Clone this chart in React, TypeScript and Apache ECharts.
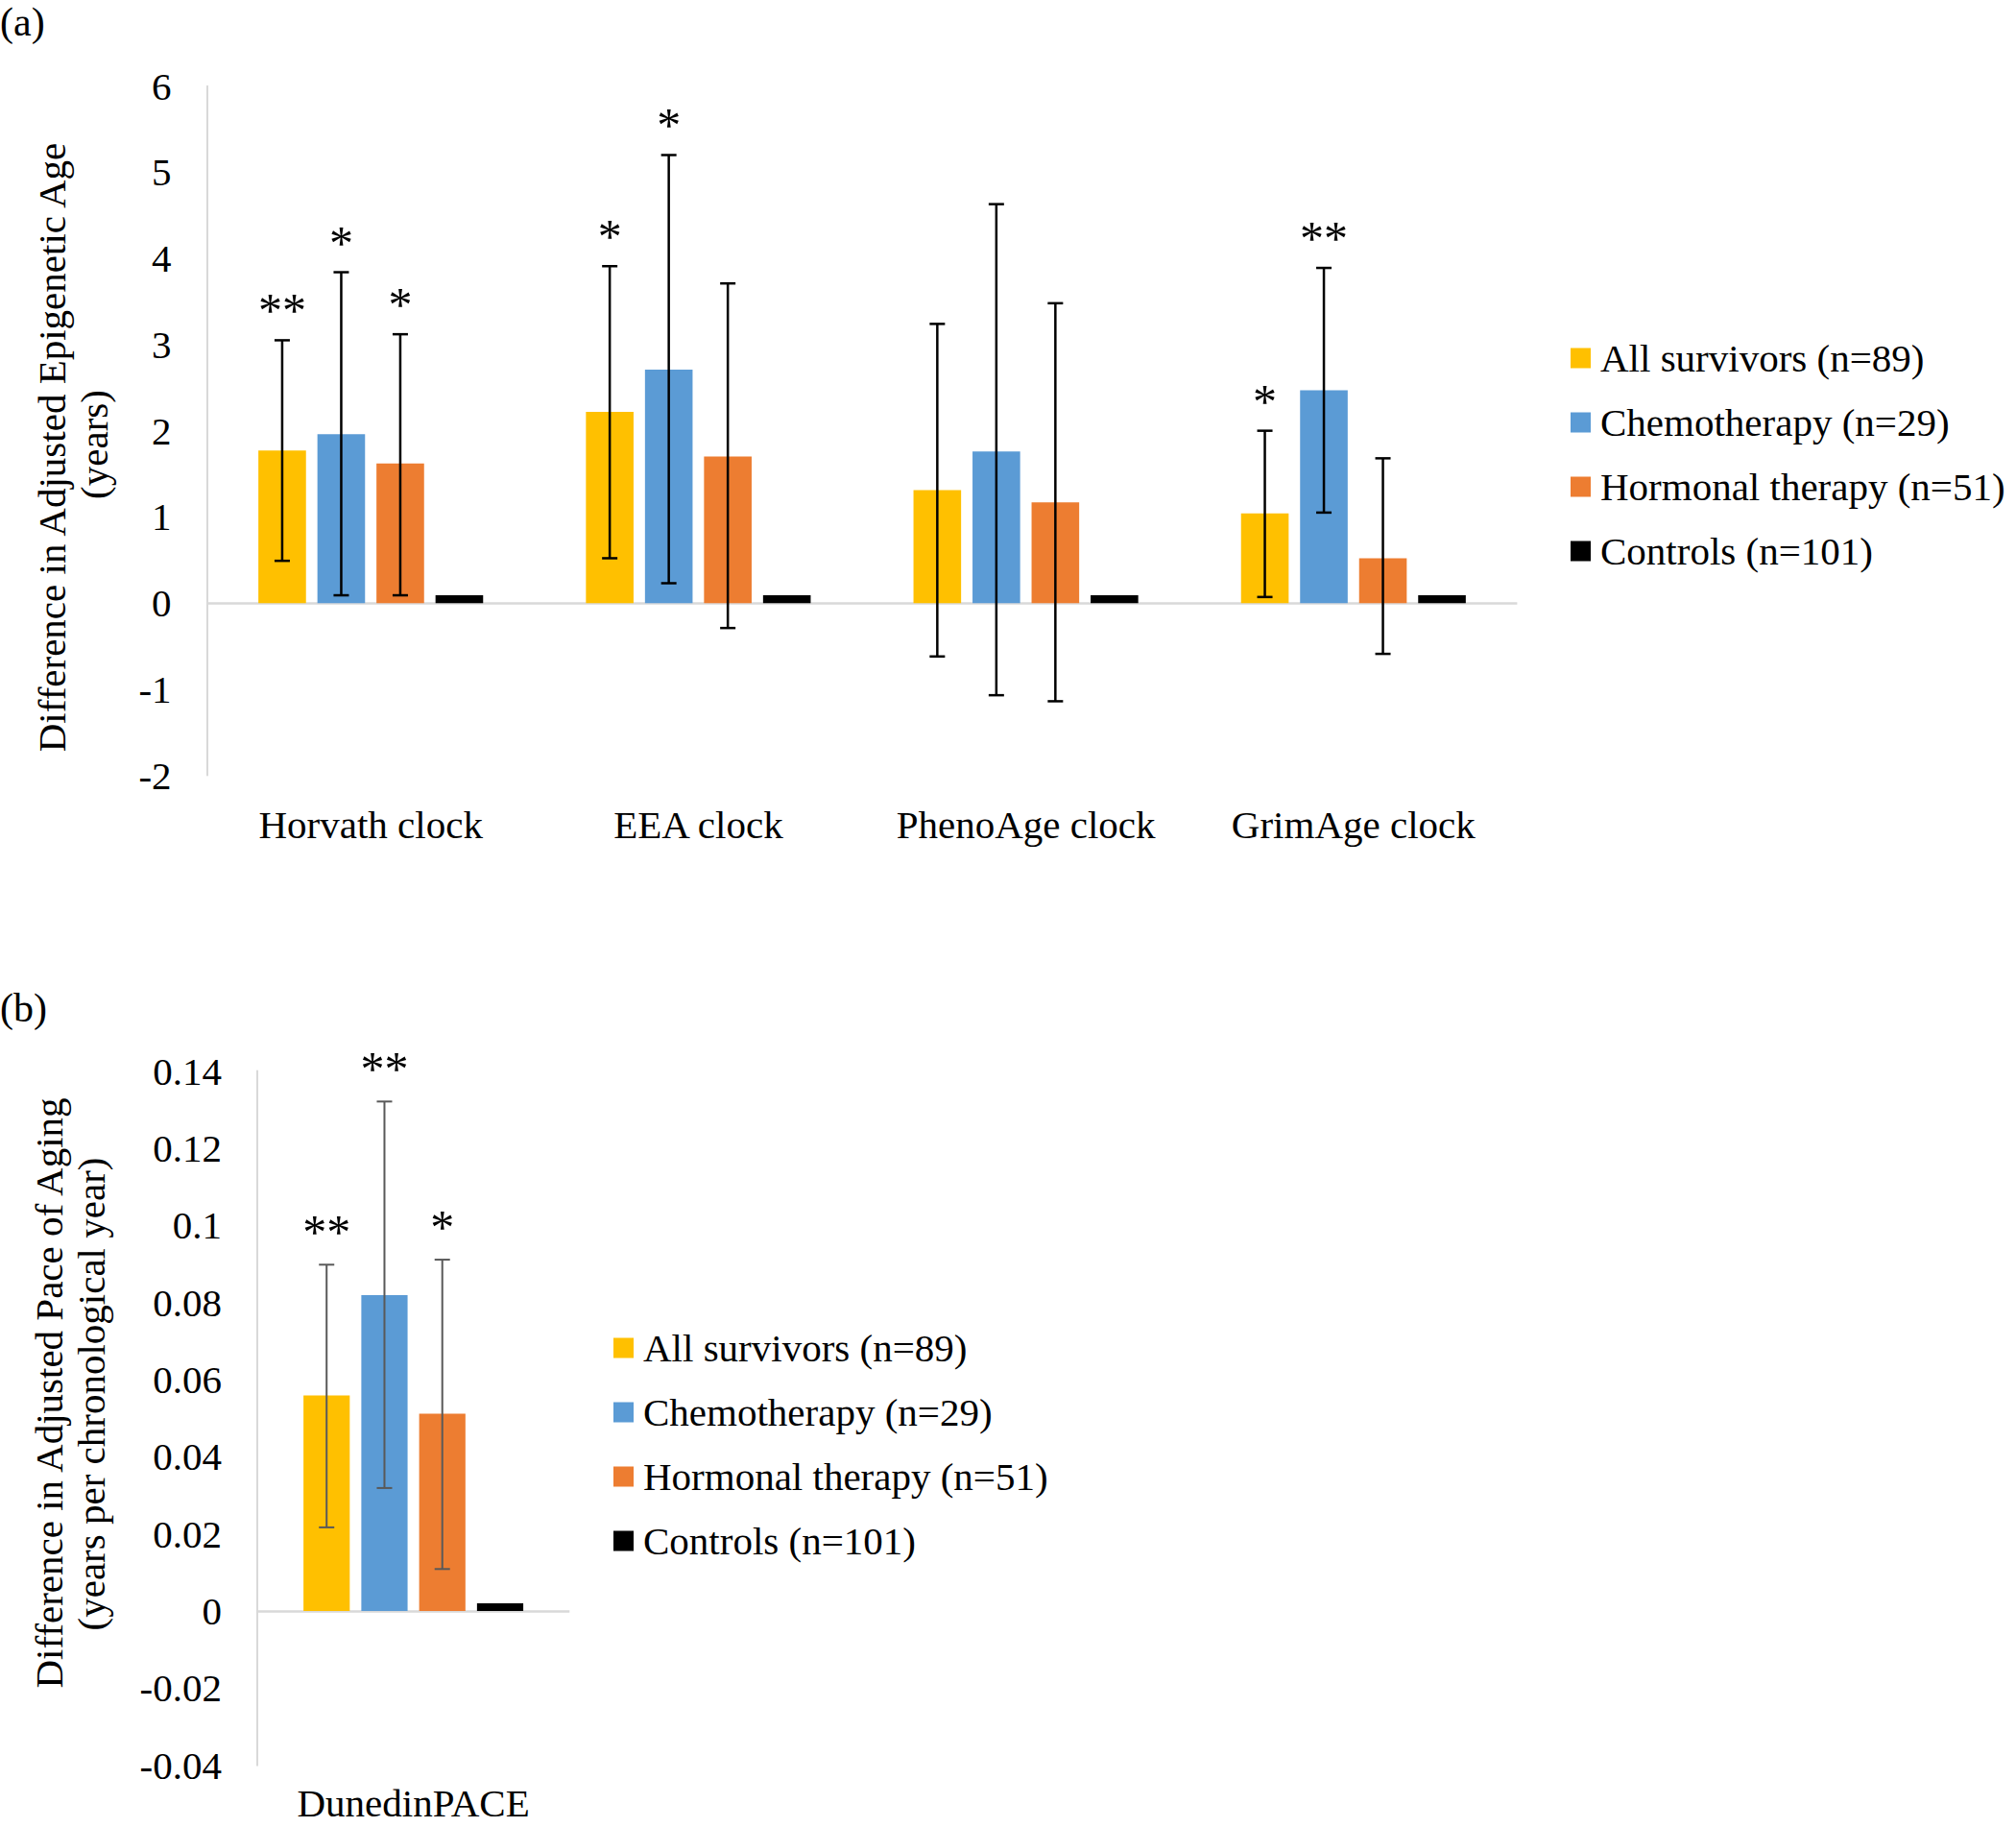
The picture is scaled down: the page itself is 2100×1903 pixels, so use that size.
import React, { useEffect, useRef } from 'react';
import * as echarts from 'echarts';

const FONT = "'Liberation Serif', 'Times New Roman', serif";

const seriesNames = ['All survivors (n=89)', 'Chemotherapy (n=29)', 'Hormonal therapy (n=51)', 'Controls (n=101)'];
const seriesColors = ['#FFC000', '#5B9BD5', '#ED7D31', '#000000'];

// Panel (a)
const clockCategories = ['Horvath clock', 'EEA clock', 'PhenoAge clock', 'GrimAge clock'];
const clockAllSurvivors = [1.77, 2.22, 1.31, 1.04];
const clockChemo = [1.96, 2.71, 1.76, 2.47];
const clockHormonal = [1.62, 1.70, 1.17, 0.52];
const clockControls = [0.09, 0.09, 0.09, 0.09];
const clockAllLow = [0.49, 0.52, -0.62, 0.07];
const clockAllHigh = [3.05, 3.91, 3.24, 2.0];
const clockChemoLow = [0.09, 0.23, -1.07, 1.05];
const clockChemoHigh = [3.84, 5.2, 4.63, 3.89];
const clockHormLow = [0.09, -0.29, -1.14, -0.59];
const clockHormHigh = [3.12, 3.71, 3.48, 1.68];
const clockAllStars = ['**', '*', '', '*'];
const clockChemoStars = ['*', '*', '', '**'];
const clockHormStars = ['*', '', '', ''];

// Panel (b)
const paceCategories = ['DunedinPACE'];
const paceAllSurvivors = [0.0559];
const paceChemo = [0.0819];
const paceHormonal = [0.0512];
const paceControls = [0.002];
const paceAllLow = [0.0217];
const paceAllHigh = [0.0898];
const paceChemoLow = [0.0319];
const paceChemoHigh = [0.1321];
const paceHormLow = [0.0109];
const paceHormHigh = [0.0911];
const paceAllStars = ['**'];
const paceChemoStars = ['**'];
const paceHormStars = ['*'];

function buildErr(lows: number[][], highs: number[][], stars: string[][]) {
  const data: number[][] = [];
  const labels: string[] = [];
  for (let g = 0; g < lows.length; g++) {
    for (let c = 0; c < lows[g].length; c++) {
      data.push([c, g, lows[g][c], highs[g][c]]);
      labels.push(stars[g][c]);
    }
  }
  return { data, labels };
}

export default function App() {
  const ref = useRef<HTMLDivElement>(null);
  useEffect(() => {
    if (!ref.current) return;
    const chart = echarts.init(ref.current, null, { renderer: 'svg' });

    const barWA = 49.6;
    const gapA = 0.24;
    const barWB = 48.2;
    const gapB = 0.25;

    const errA = buildErr(
      [clockAllLow, clockChemoLow, clockHormLow],
      [clockAllHigh, clockChemoHigh, clockHormHigh],
      [clockAllStars, clockChemoStars, clockHormStars]
    );
    const errB = buildErr(
      [paceAllLow, paceChemoLow, paceHormLow],
      [paceAllHigh, paceChemoHigh, paceHormHigh],
      [paceAllStars, paceChemoStars, paceHormStars]
    );

    const makeRender = (pitch: number, labels: string[], color: string, lw: number, starGap: number) =>
      (params: any, api: any) => {
        const cat = api.value(0);
        const g = api.value(1);
        const lo = api.coord([cat, api.value(2)]);
        const hi = api.coord([cat, api.value(3)]);
        const x = lo[0] + (g - 1.5) * pitch;
        const cap = 8;
        const style = { stroke: color, lineWidth: lw };
        const children: any[] = [
          { type: 'line', shape: { x1: x, y1: lo[1], x2: x, y2: hi[1] }, style },
          { type: 'line', shape: { x1: x - cap, y1: lo[1], x2: x + cap, y2: lo[1] }, style },
          { type: 'line', shape: { x1: x - cap, y1: hi[1], x2: x + cap, y2: hi[1] }, style },
        ];
        const star = labels[params.dataIndex];
        if (star) {
          children.push({
            type: 'text',
            style: {
              text: star,
              x: x,
              y: hi[1] - starGap,
              align: 'center',
              verticalAlign: 'middle',
              fontSize: 50,
              fontFamily: FONT,
              fill: '#000',
            },
          });
        }
        return { type: 'group', children };
      };

    const axisLabelStyle = { fontSize: 41, fontFamily: FONT, color: '#000' };

    const barSeries = (gridIdx: number, values: number[][], bw: number, gap: number) =>
      values.map((vals, i) => ({
        type: 'bar',
        name: seriesNames[i],
        xAxisIndex: gridIdx,
        yAxisIndex: gridIdx,
        data: vals,
        barWidth: bw,
        barGap: `${Math.round(gap * 100)}%`,
        itemStyle: { color: seriesColors[i] },
        z: 2,
        ...(i === 0
          ? {
              markLine: {
                silent: true,
                symbol: 'none',
                label: { show: false },
                lineStyle: { color: '#D9D9D9', width: 2.5, type: 'solid' },
                data: [{ yAxis: 0 }],
                z: 1,
              },
            }
          : {}),
      }));

    const legendCommon = {
      orient: 'vertical',
      padding: 0,
      itemWidth: 21,
      itemHeight: 21,
      itemGap: 21,
      icon: 'rect',
      textStyle: { fontSize: 41, fontFamily: FONT, color: '#000', lineHeight: 46, padding: [0, 0, 0, 5] },
      data: seriesNames,
      selectedMode: false,
    };

    const option: any = {
      animation: false,
      backgroundColor: '#ffffff',
      textStyle: { fontFamily: FONT },
      grid: [
        { left: 215.6, top: 89.7, width: 1364.8, height: 717.9 },
        { left: 267.9, top: 1115.6, width: 325.4, height: 723.2 },
      ],
      legend: [
        { ...legendCommon, left: 1636, top: 350 },
        { ...legendCommon, left: 639, top: 1381 },
      ],
      xAxis: [
        {
          type: 'category',
          gridIndex: 0,
          data: clockCategories,
          axisLine: { show: false, onZero: false },
          axisTick: { show: false },
          axisLabel: { ...axisLabelStyle, margin: 31, interval: 0 },
        },
        {
          type: 'category',
          gridIndex: 1,
          data: paceCategories,
          axisLine: { show: false, onZero: false },
          axisTick: { show: false },
          axisLabel: { ...axisLabelStyle, margin: 19, interval: 0 },
        },
      ],
      yAxis: [
        {
          type: 'value',
          gridIndex: 0,
          min: -2,
          max: 6,
          interval: 1,
          axisLine: { show: true, lineStyle: { color: '#D9D9D9', width: 2 } },
          axisTick: { show: false },
          splitLine: { show: false },
          axisLabel: { ...axisLabelStyle, margin: 37 },
        },
        {
          type: 'value',
          gridIndex: 1,
          min: -0.04,
          max: 0.14,
          interval: 0.02,
          axisLine: { show: true, lineStyle: { color: '#D9D9D9', width: 2 } },
          axisTick: { show: false },
          splitLine: { show: false },
          axisLabel: { ...axisLabelStyle, margin: 37 },
        },
      ],
      series: [
        ...barSeries(0, [clockAllSurvivors, clockChemo, clockHormonal, clockControls], barWA, gapA),
        ...barSeries(1, [paceAllSurvivors, paceChemo, paceHormonal, paceControls], barWB, gapB),
        {
          type: 'custom',
          xAxisIndex: 0,
          yAxisIndex: 0,
          data: errA.data,
          encode: { x: 0, y: [2, 3] },
          renderItem: makeRender(barWA * (1 + gapA), errA.labels, '#000000', 2.5, 31),
          clip: false,
          z: 5,
          silent: true,
        },
        {
          type: 'custom',
          xAxisIndex: 1,
          yAxisIndex: 1,
          data: errB.data,
          encode: { x: 0, y: [2, 3] },
          renderItem: makeRender(barWB * (1 + gapB), errB.labels, '#595959', 2, 34),
          clip: false,
          z: 5,
          silent: true,
        },
      ],
      graphic: [
        { type: 'text', left: 0, top: 2, style: { text: '(a)', fontSize: 42, fontFamily: FONT, fill: '#000' } },
        { type: 'text', left: 0, top: 1029, style: { text: '(b)', fontSize: 42, fontFamily: FONT, fill: '#000' } },
        {
          type: 'text', x: 53.6, y: 466, rotation: Math.PI / 2,
          style: { text: 'Difference in Adjusted Epigenetic Age', fontSize: 41, fontFamily: FONT, fill: '#000', align: 'center', verticalAlign: 'middle' },
        },
        {
          type: 'text', x: 97.8, y: 463, rotation: Math.PI / 2,
          style: { text: '(years)', fontSize: 41, fontFamily: FONT, fill: '#000', align: 'center', verticalAlign: 'middle' },
        },
        {
          type: 'text', x: 51, y: 1451, rotation: Math.PI / 2,
          style: { text: 'Difference in Adjusted Pace of Aging', fontSize: 41, fontFamily: FONT, fill: '#000', align: 'center', verticalAlign: 'middle' },
        },
        {
          type: 'text', x: 95, y: 1452, rotation: Math.PI / 2,
          style: { text: '(years per chronological year)', fontSize: 41, fontFamily: FONT, fill: '#000', align: 'center', verticalAlign: 'middle' },
        },
      ],
    };

    chart.setOption(option);
    return () => chart.dispose();
  }, []);

  return (
    <div
      ref={ref}
      style={{ position: 'absolute', left: 0, top: 0, width: 2100, height: 1903, background: '#fff' }}
    />
  );
}
